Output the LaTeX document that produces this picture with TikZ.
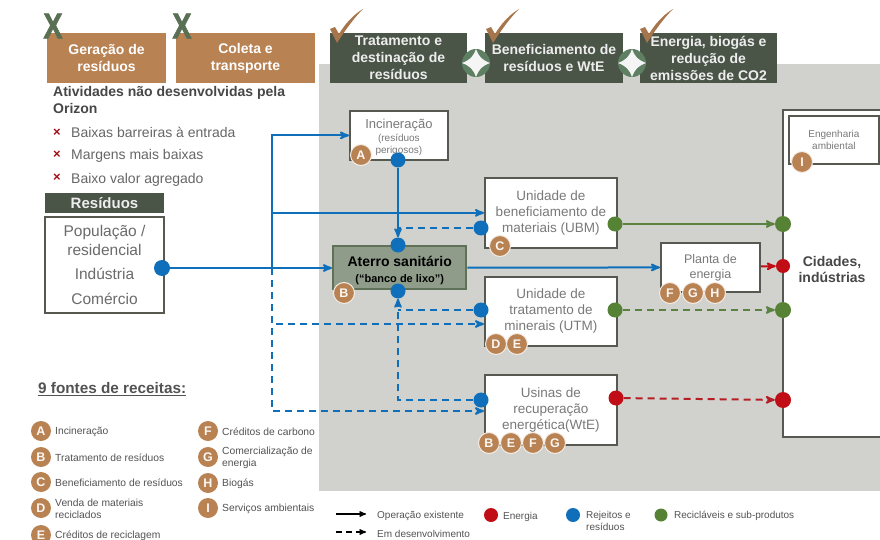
\documentclass[tikz,border=0pt]{standalone}
\usepackage{fontspec}
\setmainfont{Liberation Sans}
\usetikzlibrary{arrows,positioning,calc}
\definecolor{darkgreen}{HTML}{4A5548}
\definecolor{markgreen}{HTML}{5A7055}
\definecolor{ornament}{HTML}{5E7F62}
\definecolor{landfillfill}{HTML}{8F9C8A}
\definecolor{landfillline}{HTML}{5F7258}
\definecolor{brownbox}{HTML}{B98253}
\definecolor{panelgray}{HTML}{D1D2CD}
\definecolor{boxline}{HTML}{55594F}
\definecolor{flowblue}{HTML}{0F6FBA}
\definecolor{flowred}{HTML}{C00D16}
\definecolor{flowgreen}{HTML}{558235}
\tikzset{x=1pt,y=-1pt,>=stealth', % One unit is one pixel of the reference
        stagebrown/.style={ % Chain stages not done by the company
            fill=brownbox, text=white, font=\fontsize{14}{17}\selectfont\bfseries,
            align=center, inner sep=0pt},
        stagedark/.style={ % Chain stages done by the company
            fill=darkgreen, text=white!93!black, font=\fontsize{14}{17}\selectfont\bfseries,
            align=center, inner sep=0pt},
        unitbox/.style={ % White boxes on the panel
            draw=boxline, line width=1.8pt, fill=white, align=center, inner sep=0pt,
            text=gray!95!black, font=\fontsize{13.5}{16}\selectfont},
        dot/.style={circle, inner sep=0pt, minimum size=#1, text width=0pt},
        dot/.default=15pt,
        badge/.style={ % Lettered revenue sources
            circle, fill=brownbox, draw=white!85!brownbox, line width=1pt, minimum size=21pt,
            inner sep=0pt, text=white!93!brownbox, font=\fontsize{12.5}{13}\selectfont\bfseries},
        legendtext/.style={anchor=west, align=left, inner sep=0pt, text=black!68,
            font=\fontsize{10.3}{12.5}\selectfont},
        bullettext/.style={anchor=base west, inner sep=0pt, text=black!60, font=\fontsize{14}{16}\selectfont},
        flow/.style={flowblue, line width=2pt, ->},
        flowdash/.style={flow, dash pattern=on 7pt off 5pt}
        }
\begin{document}
\begin{tikzpicture}
    \useasboundingbox (0,0) rectangle (880,540);
    \fill[panelgray] (319,64) rectangle (880,491);

    % value chain
    \node[stagebrown, minimum width=119pt, minimum height=50pt] (generation) at (106.5,58) {Geração de\\resíduos};
    \node[stagebrown, minimum width=139pt, minimum height=50pt] (collection) at (245.5,58) {Coleta e\\transporte};
    \node[stagedark, minimum width=137pt, minimum height=50pt] (treatment) at (398.5,58) {Tratamento e\\destinação de\\resíduos};
    \node[stagedark, minimum width=138pt, minimum height=50pt] (processing) at (554,58) {Beneficiamento de\\resíduos e WtE};
    \node[stagedark, minimum width=137pt, minimum height=50pt] (energy) at (708.5,58) {Energia, biogás e\\redução de\\emissões de CO2};

    \foreach \cx in {476,632}{
        \fill[ornament] (\cx,63) circle (14);
        \fill[white!92!gray] (\cx-14,63) .. controls (\cx-6,60) and (\cx-3,57) .. (\cx,49)
            .. controls (\cx+3,57) and (\cx+6,60) .. (\cx+14,63)
            .. controls (\cx+6,66) and (\cx+3,69) .. (\cx,77)
            .. controls (\cx-3,69) and (\cx-6,66) .. (\cx-14,63) -- cycle;
    }
    \foreach \cx/\cy in {53/26,182/26}
        \node[text=markgreen, font=\fontsize{36}{36}\selectfont\bfseries\addfontfeature{FakeBold=2}, inner sep=0pt] at (\cx,\cy) {\scalebox{0.8}[1]{X}};
    \foreach \cx in {330,486,640}
        \fill[brownbox!90!black] (\cx,29) -- (\cx+5,27) -- (\cx+9,34) .. controls (\cx+15,24) and (\cx+23,15) .. (\cx+33,9)
            .. controls (\cx+24,18) and (\cx+16,29) .. (\cx+7,43) -- cycle;

    % left column
    \node[anchor=north west, align=left, inner sep=0pt, text=black!72, font=\fontsize{14}{17}\selectfont\bfseries] (orizon) at (53,86) {Atividades não desenvolvidas pela\\Orizon};
    \foreach \name/\cy/\words in {barriers/133/Baixas barreiras à entrada,margins/155/Margens mais baixas,value/178/Baixo valor agregado}{
        \node[text=flowred!85!black, font=\fontsize{13}{13}\selectfont\bfseries, inner sep=0pt] at (57,\cy) {×};
        \node[bullettext] (\name) at (71,\cy+5) {\words};
    }
    \node[fill=darkgreen, text=white!93!black, minimum width=119pt, minimum height=20pt, inner sep=0pt, font=\fontsize{15}{15}\selectfont\bfseries] (wastehead) at (104.5,203) {Resíduos};
    \node[unitbox, minimum width=119pt, minimum height=96pt, text=black!58, font=\fontsize{15.5}{19}\selectfont] (waste) at (104.5,265) {População /\\residencial\\[5pt]Indústria\\[6pt]Comércio};

    % units on the panel
    \node[unitbox, minimum width=98pt, minimum height=49pt, anchor=north west, text width=98pt] (incin) at (349,110) {\fontsize{13}{15}\selectfont\rule{0pt}{13pt}Incineração\\[1pt]\fontsize{10}{12}\selectfont (resíduos\\[-4pt]perigosos)};
    \node[unitbox, draw=landfillline, fill=landfillfill, line width=2.4pt, minimum width=133pt, minimum height=43pt, anchor=north west, text=black, font=\fontsize{14}{16}\selectfont\bfseries] (landfill) at (332,245) {\rule{0pt}{15pt}Aterro sanitário\\\fontsize{11}{14}\selectfont(“banco de lixo”)};
    \node[unitbox, minimum width=132pt, minimum height=70pt, anchor=north west] (ubm) at (484,177) {Unidade de\\beneficiamento de\\materiais (UBM)};
    \node[unitbox, minimum width=132pt, minimum height=69pt, anchor=north west] (utm) at (484,276) {Unidade de\\tratamento de\\minerais (UTM)};
    \node[unitbox, minimum width=132pt, minimum height=70pt, anchor=north west] (wte) at (484,374) {Usinas de\\recuperação\\energética(WtE)};
    \node[unitbox, minimum width=99pt, minimum height=49pt, anchor=north west, font=\fontsize{12.5}{15}\selectfont] (plant) at (660,242) {Planta de\\energia};

    % cities, open on the right
    \fill[white] (783,110) rectangle (880,437);
    \draw[boxline, line width=1.8pt] (880,110) -- (783,110) -- (783,437) -- (880,437);
    \node[unitbox, minimum width=90pt, minimum height=48pt, anchor=north west, font=\fontsize{10}{12.5}\selectfont] (engineering) at (788,115) {Engenharia\\ambiental};
    \node[align=center, inner sep=0pt, text=black!72, font=\fontsize{14}{16}\selectfont\bfseries] (cities) at (832,269) {Cidades,\\indústrias};

    % dots
    \node[dot=16pt, fill=flowblue] (dotwaste) at (162,268) {};
    \node[dot, fill=flowblue] (dotincin) at (398,160) {};
    \node[dot, fill=flowblue] (dotfillup) at (398,245) {};
    \node[dot, fill=flowblue] (dotfilldown) at (398,291) {};
    \node[dot, fill=flowblue] (dotubmin) at (481,228) {};
    \node[dot, fill=flowblue] (dotutmin) at (481,310) {};
    \node[dot, fill=flowblue] (dotwtein) at (481,400) {};
    \node[dot, fill=flowgreen] (dotubm) at (615,224) {};
    \node[dot, fill=flowgreen] (dotutm) at (615,310) {};
    \node[dot, fill=flowred] (dotwte) at (616,398) {};
    \node[dot=16pt, fill=flowgreen] (cityubm) at (783,224) {};
    \node[dot=14pt, fill=flowred] (cityplant) at (783,266) {};
    \node[dot=16pt, fill=flowgreen] (cityutm) at (783,310) {};
    \node[dot=16pt, fill=flowred] (citywte) at (783,400) {};

    \coordinate (hub) at (272,268);
    \coordinate (utmin) at (484,324);
    \coordinate (wtein) at (484,411);
    \coordinate (ubmmerge) at (398,228);
    \coordinate (utmmerge) at (398,310);

    \draw[flow] (dotwaste) -- (landfill.west |- dotwaste);
    \draw[flow] (hub) |- (incin);
    \draw[flow] (hub) |- (ubm);
    \draw[flow] (dotincin) -- (dotfillup);
    \draw[flow] (landfill) -- (plant);
    \draw[flowdash] (hub) |- (utmin);
    \draw[flowdash] (hub) |- (wtein);
    \draw[flowdash] (dotwtein) -| (dotfilldown);
    \draw[flowdash,-] (dotutmin) -- (utmmerge);
    \draw[flowdash,-] (dotubmin) -- (ubmmerge);

    \draw[flow, flowgreen!85!gray] (dotubm) -- (cityubm);
    \draw[flowdash, flowgreen!85!gray] (dotutm) -- (cityutm);
    \draw[flowdash, flowred!85!gray] (dotwte) -- (citywte);
    \draw[flow, flowred] (plant) -- (cityplant);

    % badges
    \foreach \name/\cx/\cy/\letter in {ba/361/155/A,bb/344/293/B,bc/500/246/C,bd/496/344/D,be/517/344/E,
            bf/670/293/F,bg/693/293/G,bh/715/293/H,bb2/489/443/B,be2/511/443/E,bf2/533/443/F,bg2/555/443/G,bi/802/162/I}
        \node[badge] (\name) at (\cx,\cy) {\letter};

    % revenue sources
    \node[anchor=west, inner sep=0pt, text=black!68, font=\fontsize{15.3}{17}\selectfont\bfseries] (sources) at (38,389) {\underline{9 fontes de receitas:}};
    \foreach \name/\cx/\cy/\letter/\words in {
            la/41/431/A/Incineração,
            lb/41/457/B/Tratamento de resíduos,
            lc/41/482/C/Beneficiamento de resíduos,
            ld/41/508/D/{Venda de materiais\\reciclados},
            le/41/535/E/Créditos de reciclagem,
            lf/208/431/F/Créditos de carbono,
            lg/208/457/G/{Comercialização de\\energia},
            lh/208/483/H/Biogás,
            li/208/508/I/Serviços ambientais}{
        \node[badge, draw=none, minimum size=20pt] (\name) at (\cx,\cy) {\letter};
        \node[legendtext] (\name text) at (\cx+14,\cy+1) {\words};
    }

    % legend
    \coordinate (solidfrom) at (336,514);
    \coordinate (solidto) at (366,514);
    \coordinate (dashfrom) at (336,532);
    \coordinate (dashto) at (366,532);
    \draw[->, black, line width=1.3pt] (solidfrom) -- (solidto);
    \draw[->, black, line width=1.3pt, dash pattern=on 6pt off 4pt] (dashfrom) -- (dashto);
    \node[legendtext, font=\fontsize{10}{12}\selectfont] (existing) at (377,515.5) {Operação existente};
    \node[legendtext, font=\fontsize{10}{12}\selectfont] (developing) at (377,534) {Em desenvolvimento};
    \node[dot=14pt, fill=flowred] (keyenergy) at (491,515) {};
    \node[legendtext, font=\fontsize{10}{12}\selectfont] (keyenergytext) at (503,516.5) {Energia};
    \node[dot=14pt, fill=flowblue] (keywaste) at (573,515) {};
    \node[legendtext, anchor=north west, font=\fontsize{10}{12.5}\selectfont] (keywastetext) at (586,511) {Rejeitos e\\resíduos};
    \node[dot=13pt, fill=flowgreen] (keyrecycled) at (661,515) {};
    \node[legendtext, font=\fontsize{10}{12}\selectfont] (keyrecycledtext) at (674,516) {Recicláveis e sub-produtos};
\end{tikzpicture}
\end{document}
